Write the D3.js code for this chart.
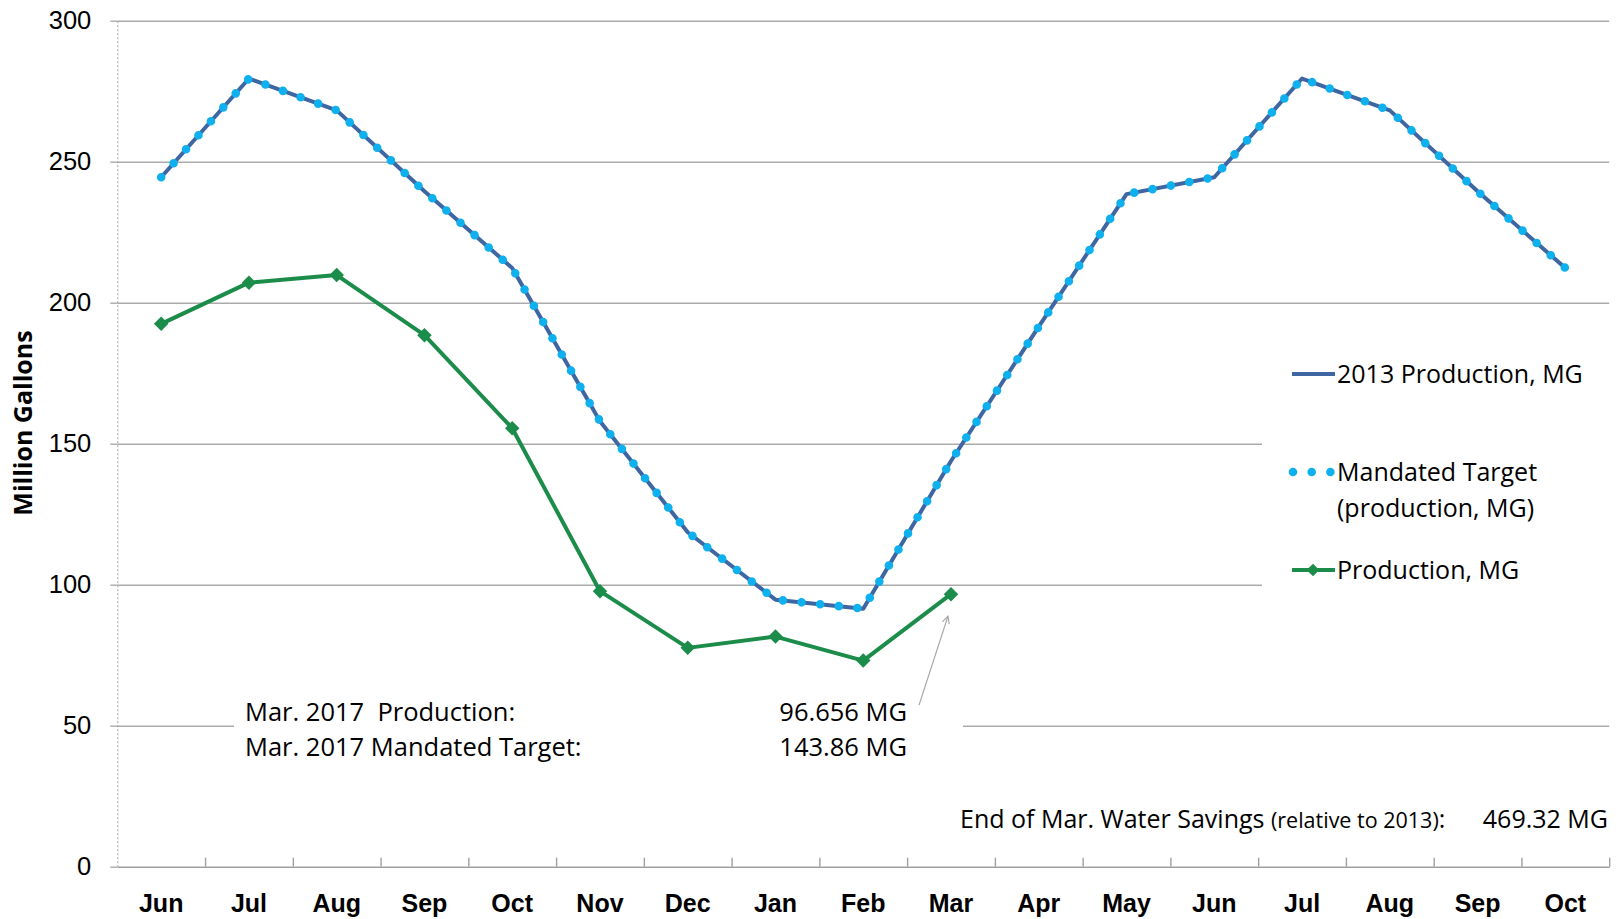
<!DOCTYPE html>
<html>
<head>
<meta charset="utf-8">
<script src="https://cdnjs.cloudflare.com/ajax/libs/d3/7.8.5/d3.min.js"></script>
<style>
  html, body { margin: 0; padding: 0; background: #fff; }
  svg { display: block; font-family: "Open Sans", sans-serif; }
</style>
</head>
<body>
<div id="chart"></div>
<script>
// Month labels on the x axis (Jun .. Oct of the following year)
const months = ["Jun", "Jul", "Aug", "Sep", "Oct", "Nov", "Dec", "Jan", "Feb",
                "Mar", "Apr", "May", "Jun", "Jul", "Aug", "Sep", "Oct"];

// 2013 production, million gallons (repeated for the second year)
const production2013 = [244.5, 279.5, 268.2, 239.5, 212.3, 158.0, 118.6, 94.7, 91.5,
                        143.86, 191.5, 238.5, 244.5, 279.5, 268.2, 239.5, 212.3];

// Mandated target, million gallons (sits right on top of the 2013 line)
const mandatedTarget = [244.5, 279.5, 268.2, 239.5, 212.3, 158.0, 118.6, 94.7, 91.5,
                        143.86, 191.5, 238.5, 244.5, 279.5, 268.2, 239.5, 212.3];

// Actual production so far, million gallons (Jun .. Mar)
const production = [192.5, 207.1, 209.8, 188.5, 155.5, 97.7, 77.6, 81.6, 73.1, 96.656];

const yTicks = [0, 50, 100, 150, 200, 250, 300];

const W = 1620, H = 919;
const margin = { top: 20.7, right: 10.8, bottom: 52.3, left: 117.3 };
const plotRight = W - margin.right;
const plotBottom = H - margin.bottom;

const blue = "#3d66a3";
const lightBlue = "#0fb0ee";
const green = "#1b8c4a";
const gridColor = "#ababab";

const svg = d3.select("#chart")
    .append("svg")
    .attr("width", W)
    .attr("height", H);

// Scales
const x = d3.scaleBand()
    .domain(d3.range(months.length))
    .range([margin.left, plotRight])
    .padding(0);
const cx = i => x(i) + x.bandwidth() / 2;

const xEdges = d3.scaleLinear()
    .domain([0, months.length])
    .range([margin.left, plotRight]);

const y = d3.scaleLinear()
    .domain([0, 300])
    .range([plotBottom, margin.top]);

// Horizontal gridlines
const grid = svg.append("g")
    .attr("transform", `translate(${margin.left},0)`)
    .call(d3.axisLeft(y).tickValues(yTicks.filter(d => d > 0))
        .tickSize(-(plotRight - margin.left)).tickFormat(""));
grid.select(".domain").remove();
grid.selectAll("line").attr("stroke", gridColor).attr("stroke-width", 1.4);

// White boxes behind the legend and the text block (they hide the gridlines)
svg.append("rect")
    .attr("x", 1262).attr("y", 318)
    .attr("width", W - 1262).attr("height", 294)
    .attr("fill", "#fff");
svg.append("rect")
    .attr("x", 234).attr("y", 690)
    .attr("width", 729).attr("height", 80)
    .attr("fill", "#fff");

// Y axis
const yAxis = svg.append("g")
    .attr("transform", `translate(${margin.left},0)`)
    .call(d3.axisLeft(y).tickValues(yTicks).tickSize(7).tickSizeOuter(0).tickPadding(19));
yAxis.select(".domain")
    .attr("stroke", "#a0a0a0")
    .attr("stroke-width", 1)
    .attr("stroke-dasharray", "2,2");
yAxis.selectAll("line").attr("stroke", gridColor).attr("stroke-width", 1.4);
yAxis.selectAll("text")
    .style("font-size", "25.5px")
    .attr("fill", "#000");

// X axis line and ticks on month boundaries (pointing up)
const xAxis = svg.append("g")
    .attr("transform", `translate(0,${plotBottom})`)
    .call(d3.axisBottom(xEdges).tickValues(d3.range(1, months.length + 1))
        .tickSize(-9).tickSizeOuter(0).tickFormat(""));
xAxis.select(".domain").attr("stroke", "#a0a0a0").attr("stroke-width", 1.6);
xAxis.selectAll("line").attr("stroke", "#a0a0a0").attr("stroke-width", 1.4);

// Month labels
const xLabels = svg.append("g")
    .attr("transform", `translate(0,${plotBottom})`)
    .call(d3.axisBottom(x).tickFormat(i => months[i]).tickSize(0).tickPadding(28));
xLabels.select(".domain").remove();
xLabels.selectAll("text")
    .style("font-size", "25px")
    .style("font-weight", "bold")
    .attr("fill", "#000");

// Y axis title
svg.append("text")
    .attr("transform", "translate(32,423) rotate(-90)")
    .attr("text-anchor", "middle")
    .style("font-size", "25px")
    .style("font-weight", "bold")
    .text("Million Gallons");

// Lines
const line = d3.line()
    .x((d, i) => cx(i))
    .y(d => y(d));

svg.append("path")
    .datum(production2013)
    .attr("d", line)
    .attr("fill", "none")
    .attr("stroke", blue)
    .attr("stroke-width", 4)
    .attr("stroke-linejoin", "round");

svg.append("path")
    .datum(mandatedTarget)
    .attr("d", line)
    .attr("fill", "none")
    .attr("stroke", lightBlue)
    .attr("stroke-width", 8.6)
    .attr("stroke-linecap", "round")
    .attr("stroke-dasharray", "0 18.7");

svg.append("path")
    .datum(production)
    .attr("d", line)
    .attr("fill", "none")
    .attr("stroke", green)
    .attr("stroke-width", 4)
    .attr("stroke-linejoin", "round");

const diamond = d3.symbol(d3.symbolSquare, 105);
svg.selectAll(".prod-marker")
    .data(production)
    .enter()
    .append("path")
    .attr("class", "prod-marker")
    .attr("d", diamond)
    .attr("transform", (d, i) => `translate(${cx(i)},${y(d)}) rotate(45)`)
    .attr("fill", green);

// Legend
const legendX = 1292, legendTextX = 1337;
const legend = svg.append("g").style("font-size", "25px");

legend.append("line")
    .attr("x1", legendX).attr("x2", legendX + 43)
    .attr("y1", 374).attr("y2", 374)
    .attr("stroke", blue).attr("stroke-width", 4);
legend.append("text")
    .attr("x", legendTextX).attr("y", 374).attr("dy", "0.35em")
    .text("2013 Production, MG");

legend.append("line")
    .attr("x1", legendX + 1).attr("x2", legendX + 43)
    .attr("y1", 472).attr("y2", 472)
    .attr("stroke", lightBlue).attr("stroke-width", 8.6)
    .attr("stroke-linecap", "round").attr("stroke-dasharray", "0 18.7");
legend.append("text")
    .attr("x", legendTextX).attr("y", 472).attr("dy", "0.35em")
    .text("Mandated Target");
legend.append("text")
    .attr("x", legendTextX).attr("y", 508).attr("dy", "0.35em")
    .text("(production, MG)");

legend.append("line")
    .attr("x1", legendX).attr("x2", legendX + 43)
    .attr("y1", 570).attr("y2", 570)
    .attr("stroke", green).attr("stroke-width", 4);
legend.append("path")
    .attr("d", d3.symbol(d3.symbolSquare, 80))
    .attr("transform", `translate(${legendX + 21},570) rotate(45)`)
    .attr("fill", green);

legend.append("text")
    .attr("x", legendTextX).attr("y", 570).attr("dy", "0.35em")
    .text("Production, MG");

// Text block for March figures
const notes = svg.append("g").style("font-size", "25.5px");
notes.append("text").attr("x", 245).attr("y", 712).attr("dy", "0.35em")
    .attr("xml:space", "preserve")
    .text("Mar. 2017  Production:");
notes.append("text").attr("x", 245).attr("y", 747).attr("dy", "0.35em")
    .text("Mar. 2017 Mandated Target:");
notes.append("text").attr("x", 907).attr("y", 712).attr("dy", "0.35em")
    .attr("text-anchor", "end")
    .text(d3.format(".3f")(production[9]) + " MG");
notes.append("text").attr("x", 907).attr("y", 747).attr("dy", "0.35em")
    .attr("text-anchor", "end")
    .text(d3.format(".2f")(mandatedTarget[9]) + " MG");

// Arrow pointing at the March production point
svg.append("defs").append("marker")
    .attr("id", "arrow")
    .attr("viewBox", "0 0 10 10")
    .attr("refX", 9).attr("refY", 5)
    .attr("markerWidth", 9).attr("markerHeight", 9)
    .attr("markerUnits", "userSpaceOnUse")
    .attr("orient", "auto")
    .append("path")
    .attr("d", "M1,1 L9,5 L1,9")
    .attr("fill", "none")
    .attr("stroke", "#a6a6a6")
    .attr("stroke-width", 1.2);

const marX = cx(9), marY = y(production[9]);
svg.append("line")
    .attr("x1", marX - 32).attr("y1", marY + 111)
    .attr("x2", marX - 3).attr("y2", marY + 22)
    .attr("stroke", "#a6a6a6")
    .attr("stroke-width", 1.2)
    .attr("marker-end", "url(#arrow)");

// Water savings line
const savings = svg.append("text")
    .attr("x", 960).attr("y", 819).attr("dy", "0.35em")
    .style("font-size", "25px")
    .attr("xml:space", "preserve");
savings.append("tspan").text("End of Mar. Water Savings ");
savings.append("tspan").style("font-size", "21.5px").text("(relative to 2013)");
savings.append("tspan").text(":");
svg.append("text")
    .attr("x", 1608).attr("y", 819).attr("dy", "0.35em")
    .attr("text-anchor", "end")
    .style("font-size", "25px")
    .text("469.32 MG");
</script>
</body>
</html>
